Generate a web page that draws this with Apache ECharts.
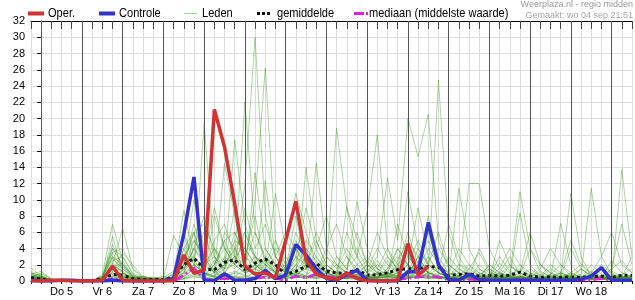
<!DOCTYPE html>
<html><head><meta charset="utf-8">
<script src="https://cdn.jsdelivr.net/npm/echarts@6/dist/echarts.min.js"></script>
<style>html,body{margin:0;padding:0;background:#fff}#c{width:635px;height:300px}</style>
</head><body><div id="c"></div>
<script>
// Time steps: 6-hourly, hours relative to Do 5 00:00 (first step Wo 4 18:00)
const stepStartHour = -6, stepHours = 6, nSteps = 60;
const dayLabels = ['Do 5','Vr 6','Za 7','Zo 8','Ma 9','Di 10','Wo 11','Do 12','Vr 13','Za 14','Zo 15','Ma 16','Di 17','Wo 18'];
const dayStartHours = [0,24,48,72,96,120,144,168,192,216,240,264,288,312,336];

const oper = [0,0,0.1,0.1,0,0,0,0.1,1.8,0.1, 0,0,0,0,0,3.2,0.95,1.3,21.1,16.5, 9.5,1.8,0.85,1.0,0.4,5.0,9.8,2.6,0.85,0.4, 0.2,0.95,0.3,0,0,0,0.1,4.6,0.7,1.8];
const controle = [0.1,0,0,0.1,0.1,0,0,0,0.1,0, 0,0,0,0,0.3,5.8,12.8,0.1,0.05,0.9, 0.1,0.1,0.3,1.3,0.3,0.7,4.5,3.2,1.5,0.3, 0.1,0.8,1.3,0.1,0,0,0,1.15,1.15,7.2, 2.0,0.2,0.1,0.8,0.2,0.1,0.1,0.1,0.1,0.1, 0.1,0.1,0.1,0.1,0.2,0.6,1.65,0.1,0.1,0.1];
const gemiddelde = [0.4,0.25,0.05,0.05,0.05,0.05,0.05,0.3,0.8,0.7, 0.3,0.2,0.2,0.15,0.4,2.0,2.8,1.5,1.4,2.3, 2.6,1.4,2.2,2.7,2.0,0.8,1.2,1.8,2.2,1.2, 1.0,1.0,1.4,0.7,0.8,1.0,1.4,1.5,1.5,1.8, 1.7,0.7,0.8,0.9,0.6,0.7,0.6,0.7,1.1,0.6, 0.45,0.5,0.45,0.5,0.45,0.6,0.6,0.45,0.7,0.7];
const mediaan = [0.2,0.1,0.05,0.05,0.05,0,0,0,0.3,0.1, 0,0,0,0,0,0.7,1.6,0.2,0.1,0.3, 0.2,0.1,0.3,0.5,0.3,0.1,0.6,0.4,0.8,0.6, 0.4,0.6,0.5,0.1,0.1,0.1,0.2,0.3,0.5,0.6, 0.5,0.1,0.1,0.2,0.1,0.1,0.1,0.1,0.3,0.1, 0.1,0.1,0.1,0.1,0.1,0.1,0.3,0.1,0.1,0.1];

const leden = [
[1.6,0.6,0.1,0,0,0,0,0.4,4.5,1.8, 0.3,0.1,0,0.2,0.5,2.5,1.2,19.4,3,1.5, 4,6,2.5,1,0.6,0.3,2,4,1.5,0.6, 0.8,0.3,0.6,0.2,1,2.5,1,0.5,0.3,1, 2,0.5,0.3,0.2,1,0.5,0.3,0.2,0.5,0.3, 0.2,0.1,0.5,1,0.4,0.3,0.2,0.5,0.3,0.2],
[0.8,1.2,0.2,0,0,0,0,0.8,7,2.5, 0.5,0.2,0.1,0,0.3,4,6,2,1,14.5, 8,2,1.5,3,1,0.5,1.2,2,0.8,0.3, 0.5,1.5,3,1,0.4,0.6,2,3.5,1,0.5, 0.3,0.6,1.5,0.8,0.3,0.5,2.2,1,0.4,0.2, 0.3,0.8,0.5,0.2,0.4,1.2,0.6,0.3,0.2,0.4],
[0.5,0.3,0,0,0,0,0,0.2,5.5,1, 0.2,0.4,0.1,0.3,0.8,8.7,3,1.5,4,2, 17.4,7,3,2,5,1,0.8,1.5,3,1, 0.4,0.3,0.8,2,1.5,0.6,0.3,1,2.5,1, 0.5,0.3,0.6,1.5,3.5,1.2,0.5,0.3,0.2,0.5, 0.8,0.4,0.2,0.3,0.6,0.3,0.2,0.1,0.3,0.5],
[0.3,0.5,0.1,0,0,0,0.1,0.6,4,3, 1,0.3,0.2,0.1,1,5.6,2,1,0.5,3, 2,1,13.3,4,2,1,6,3,1,0.5, 0.3,0.5,1,0.4,0.3,1.5,4,2,1,3, 1,0.5,0.3,0.8,0.5,0.3,0.2,0.6,1.5,0.5, 0.3,0.2,0.4,0.8,0.3,0.2,0.4,0.3,0.6,0.3],
[1,0.4,0,0,0,0,0,0.3,3.5,1.5, 0.6,0.3,0.5,0.2,0.3,2,10,4,1.2,0.5, 1,2,1,12.3,3,1,0.5,2,5,2, 1,0.8,0.5,0.2,0.5,1,0.4,0.8,3,5, 2,0.6,0.3,0.5,0.3,0.8,0.4,0.2,0.3,1, 0.5,0.3,0.2,0.6,1.5,0.6,0.3,0.2,0.4,0.6],
[0.2,0.1,0,0,0,0,0,0.1,2,6.5, 1.5,0.3,0.1,0,0.2,1.5,4,2,3,1, 2.5,5,3,1.5,10.8,4,10.8,6,2,1, 0.5,0.3,0.2,0.8,2,1,0.5,0.3,1.2,0.6, 0.3,0.2,0.4,0.3,0.2,0.5,1.5,4,2,0.5, 0.3,0.2,1,0.5,0.3,0.2,0.5,1.2,0.6,0.3],
[0.6,0.2,0,0,0,0,0,0.2,2.5,3, 0.8,0.2,0.3,0.5,0.2,1,3,6,2,5, 6,3,1.5,1,2,1,0.5,14,5,2, 1,3,1.5,0.5,0.3,0.6,1,2,0.6,0.3, 0.5,2,1,0.4,0.3,0.2,0.5,0.3,8.4,2, 0.6,0.3,0.2,0.4,0.3,0.6,0.3,0.2,0.5,0.4],
[0.4,0.7,0.1,0,0,0,0,0.3,3,1, 0.4,0.1,0,0.2,0.4,6,2.5,1,8,4, 3,22,6,2.5,1,0.8,3,1.5,14.5,4, 2,1,0.6,0.3,0.5,1,0.6,0.4,0.8,2, 1,0.5,0.3,0.2,0.6,0.4,0.3,0.8,0.4,0.2, 0.3,0.5,7.1,2,0.6,0.3,0.2,0.3,0.5,0.2],
[0.2,0.3,0,0,0,0,0,0.1,1.5,2, 0.5,0.2,0.1,0.3,5.6,3,1,0.6,2,5, 2,12,30,8,3,1,0.8,0.5,1,2, 18.8,9,5.3,2,1,0.6,0.4,1,2,1, 0.6,0.3,0.2,0.5,0.3,0.6,1,0.5,0.3,0.2, 0.4,0.3,0.2,0.5,0.3,0.2,0.6,0.4,0.3,0.2],
[0.9,0.3,0,0,0,0,0,0.2,2,1.2, 0.3,0.6,0.2,0.1,0.3,1.2,5,3,1,2, 4,2,10,26.2,5,2,1,0.6,0.4,1, 2,1,9.8,4,1.5,0.8,0.5,0.3,0.6,0.4, 0.3,0.6,11.4,4,1.5,0.6,0.3,0.2,0.4,0.3, 0.2,0.4,0.3,0.2,0.5,0.3,0.2,0.4,0.6,0.3],
[0.3,0.5,0.2,0,0,0,0,0.5,1.5,0.8, 0.2,0.1,0,0.1,0.2,2,6,7,4,1, 0.5,1.5,3,2,1,1.5,4,2,0.8,0.5, 0.3,9.1,3,8.5,18,4,1,0.6,0.4,0.8, 1.5,0.6,0.3,0.2,0.5,0.4,0.3,0.6,0.3,0.2, 0.4,0.3,0.6,10.8,3,0.6,0.3,0.2,0.4,0.3],
[0.5,0.2,0,0,0,0,0,0.1,1,0.6, 0.3,0.2,0.4,0.2,0.1,0.8,2,1,0.5,1, 3,1.5,1,2,0.8,0.5,1,3,2,1, 0.6,0.4,0.3,1,3,12.7,5,20,15.3,20.5, 5,1.5,0.6,0.3,0.2,0.4,0.3,0.2,0.5,0.3, 0.2,0.3,0.5,0.3,0.2,0.4,0.3,0.2,0.3,0.5],
[0.1,0.2,0,0,0,0,0,0.2,0.8,0.5, 0.1,0,0.1,0.2,0.3,0.6,1.5,0.8,0.4,0.6, 1,0.8,2,1,0.5,0.3,0.6,0.4,1,2, 1,0.5,0.8,0.4,0.3,0.5,1,0.6,3,1, 24.7,6,2,1,0.5,0.3,0.6,0.4,0.3,0.2, 0.3,0.2,0.4,0.6,0.3,0.2,0.3,0.5,0.3,0.2],
[0.7,0.4,0,0,0,0,0,0.1,0.5,0.3, 0,0.1,0.2,0,0.1,0.4,1,0.5,1,0.4, 0.6,0.4,1,0.5,0.3,1.5,0.6,0.3,0.5,1, 0.5,0.3,1.2,0.6,0.4,0.3,1,2,0.8,0.4, 0.6,0.3,1,12,12,4,1.5,0.6,0.4,0.3, 0.2,0.3,0.5,0.3,0.2,0.6,0.4,0.3,0.2,0.3],
[0.3,0.1,0,0,0,0,0,0,0.4,0.2, 0.1,0,0,0.1,0,0.3,0.8,0.4,0.2,0.5, 0.3,0.6,0.4,1,0.5,0.3,0.8,0.5,0.3,0.6, 0.4,0.6,0.3,0.5,0.8,0.4,0.6,1,4,2, 1,0.5,0.3,0.6,0.4,0.3,1,0.6,11,4, 1,0.6,0.4,0.3,0.5,0.3,0.4,0.6,0.3,0.4],
[0.4,0.2,0,0,0,0,0,0,0.3,0.5, 0.2,0.1,0,0,0.1,0.2,0.5,0.3,0.6,0.3, 0.4,0.3,0.6,0.3,0.4,0.2,0.5,0.3,0.8,0.4, 0.3,0.5,0.2,0.4,0.6,0.3,0.4,0.8,0.5,0.6, 0.4,0.3,0.6,0.4,0.3,0.5,0.3,0.4,0.6,0.3, 0.5,0.3,0.4,0.6,0.8,11.4,3,0.8,0.4,0.3],
[0.2,0.3,0,0,0,0,0,0,0.6,0.4, 0.1,0.2,0,0,0,0.3,0.6,0.4,0.3,0.6, 0.5,0.3,0.4,0.6,0.3,0.5,0.4,0.6,0.3,0.5, 0.4,0.3,0.5,0.3,0.4,0.6,0.3,0.5,0.4,0.3, 0.5,0.3,0.4,0.6,0.3,0.4,0.5,0.3,0.6,0.4, 0.3,0.5,0.4,0.3,0.6,0.4,0.5,0.3,13.7,3],
[1.2,0.5,0.1,0,0,0,0,0.4,2.8,1.5, 0.4,0.2,0.1,0.2,0.6,2,3,1.5,5,7, 3,2,6,3,1.5,2,5,2,1,3, 2,1,0.5,1.5,4,2,1,0.5,2,6, 2,1,0.5,0.3,2,1,0.6,0.3,0.5,1.5, 0.6,2,1,0.4,0.3,0.6,1.5,0.5,0.3,0.8],
[0.5,0.9,0.2,0,0,0,0,0.6,3.5,4, 1.5,0.5,0.3,0.2,0.8,4,2,1,2.5,1.5, 5,4,2,1,3,6,4,1.5,2,0.6, 1,2,4,1.5,0.8,0.4,2.5,5,3,1, 0.8,3,1.5,0.6,0.4,2,1,0.5,0.3,0.6, 2,1,0.5,0.3,1.5,0.6,0.4,2.5,1,0.5],
[0.3,0.2,0,0,0,0,0,0.3,2,1, 0.3,0.1,0.2,0.4,1.2,3,1.5,2,4,2.5, 1.5,3,2,4,2,1,2.5,5,3,1.5, 0.8,0.5,2,3,1.5,4,2,1,0.6,2.5, 4,2,1,0.5,1.5,0.8,0.4,1.8,1,0.5, 0.3,0.8,2,1,0.5,0.3,0.6,1.5,2.5,1],
[0.6,0.3,0,0,0,0,0,0.2,1.8,2.2, 0.6,0.4,0.2,0.1,0.3,1,4,2.5,1,6, 4,1,1.5,2.5,1,0.5,3,2,6,3, 1.5,4,2,1,0.5,1.5,3,2,5,2, 1,0.5,2,1.5,0.6,0.3,0.8,2,1,0.4, 1.2,0.6,0.3,1,2,1,0.5,0.3,0.8,1.5],
[0.4,0.6,0.1,0,0,0,0,0.4,4,2, 0.8,0.3,0.1,0.2,0.4,2.5,6,1,0.6,2, 3,1,2,1.5,4,2,1,1.5,1,0.5, 3,1.5,0.6,0.4,1,3,1.5,6,2,1, 0.6,0.3,0.5,2,1,0.5,3,1.2,0.6,0.3, 0.5,1.5,0.8,0.4,0.3,0.5,0.3,0.8,0.4,0.6],
[0.2,0.4,0,0,0,0,0,0.1,1.2,3.5, 2,0.5,0.3,0.6,0.2,1.5,2.5,0.8,2,4, 2,6,3,1,0.6,0.8,1.5,4,2.5,1, 0.6,0.4,1.5,2.5,1,0.6,0.3,3,1.5,4, 2,1,0.6,0.3,0.8,1.5,0.6,0.3,2,1, 0.4,0.3,1,0.6,0.3,2,0.8,0.4,0.3,0.6],
[0.8,0.3,0,0,0,0,0,0.2,2.2,1, 0.3,0.6,0.3,0.1,0.2,3,5,3,9,4, 2,9,4,7,3,1.5,8,2,1,4, 7,3,1,2,6,3,1.5,11,4,2, 6,2,1,0.5,4,1.5,0.8,0.4,1,6, 2,1,0.5,4,1.5,0.6,2,1,0.5,3],
[0.1,0.2,0,0,0,0,0,0.3,1.5,0.6, 0.2,0.1,0,0.1,0.5,2,7,3,1,2, 9,4,2,1,1.5,3,1.2,0.6,4,8, 3,1.5,6,2,1,0.5,7,3,1.5,8, 3,1,4,2,0.6,0.3,5,2,0.8,0.4, 1.5,4,2,0.6,0.3,1,3,6,2,1],
[0.5,1,0.3,0,0,0,0,0.5,3,2, 0.5,0.2,0.1,0,0.3,1.5,4,8,3,1.5, 6,3,8,2,1,5,3,9,4,1.5, 1,6,3,1,2.5,1,4,2,9,3, 1,7,3,1,0.5,2,1,3,0.8,4, 2,0.6,1,5,2,0.8,0.4,1.5,7,2],
[0.3,0.1,0,0,0,0,0,0.1,1,0.4, 0.1,0,0,0,0.1,0.5,1.5,0.6,1.5,0.8, 1.2,0.6,1,0.8,0.4,0.6,2,1,0.5,0.3, 0.6,0.3,0.8,0.5,0.3,1,0.6,0.4,1.5,0.8, 0.5,0.3,0.6,0.4,0.3,0.6,0.4,0.3,0.5,0.3, 0.4,0.3,0.2,0.5,0.3,0.4,0.2,0.3,0.4,0.3],
[1,0.6,0,0,0,0,0,0.2,1.2,0.8, 0.2,0.3,0.1,0,0.2,1,2,1,0.6,1.5, 2,1,1.5,0.6,0.8,0.4,1,0.6,2,0.8, 0.4,1,0.6,0.3,0.5,0.8,1.2,0.6,0.4,1, 0.6,0.4,0.3,0.5,0.8,0.4,0.3,0.6,0.4,0.3, 0.3,0.5,0.4,0.3,0.2,0.5,0.3,0.4,0.3,0.2]
];

const hours = [];
for (let i = 0; i < nSteps; i++) hours.push(stepStartHour + stepHours * i);
const pairs = arr => arr.map((v, i) => [hours[i], v]);

const chart = echarts.init(document.getElementById('c'), null, {renderer: 'canvas'});
const FONT = 'Liberation Sans, Arial, sans-serif';

const series = [];
series.push({
  type: 'line', data: [], silent: true, z: 1,
  markLine: {silent: true, symbol: ['none','none'], label: {show: false}, animation: false,
    lineStyle: {color: '#555', width: 1, type: 'solid'},
    data: dayStartHours.map(h => ({xAxis: h}))}
});
leden.forEach(m => series.push({
  type: 'line', data: pairs(m), symbol: 'none', silent: true, z: 2,
  lineStyle: {color: 'rgba(55,150,25,0.4)', width: 1}
}));
series.push({type: 'line', data: pairs(mediaan), symbol: 'none', z: 3,
  lineStyle: {color: '#e020e0', width: 2.5, type: [10,3,2,3]}});
series.push({type: 'line', data: pairs(gemiddelde), symbol: 'none', z: 4,
  lineStyle: {color: '#111', width: 3, type: [3,3], cap: 'butt'}});
series.push({type: 'line', data: pairs(controle), symbol: 'none', z: 5,
  lineStyle: {color: '#3333cc', width: 3.5}});
series.push({type: 'line', data: pairs(oper), symbol: 'none', z: 6,
  lineStyle: {color: '#d03333', width: 3.5}});

const legendItems = [
  {x1: 28, x2: 44, color: '#d03333', w: 4, dash: null, tx: 48, text: 'Oper.'},
  {x1: 99, x2: 115, color: '#3333cc', w: 4, dash: null, tx: 119, text: 'Controle'},
  {x1: 184, x2: 197, color: '#a8d49c', w: 1.2, dash: null, tx: 202, text: 'Leden'},
  {x1: 257, x2: 272, color: '#111', w: 3, dash: [3,2], tx: 277, text: 'gemiddelde'},
  {x1: 354, x2: 368, color: '#e020e0', w: 3, dash: [10,2,2,2], tx: 369, text: 'mediaan (middelste waarde)'}
];
const graphic = [];
legendItems.forEach(it => {
  graphic.push({type: 'line', shape: {x1: it.x1, y1: 13.5, x2: it.x2, y2: 13.5},
    style: {stroke: it.color, lineWidth: it.w, lineDash: it.dash}, silent: true});
  graphic.push({type: 'text', x: it.tx, y: 13.5, scaleX: 0.85,
    style: {text: it.text, fill: '#000', font: '13px ' + FONT, textVerticalAlign: 'middle'}});
});
graphic.push({type: 'text', right: 2, top: 0,
  style: {text: 'Weerplaza.nl - regio midden', fill: '#999', font: '9px ' + FONT, textAlign: 'right'}});
graphic.push({type: 'text', right: 2, top: 11,
  style: {text: 'Gemaakt: wo 04 sep 21:51', fill: '#a8a8a8', font: '9px ' + FONT, textAlign: 'right'}});

chart.setOption({
  animation: false,
  backgroundColor: '#fff',
  grid: {left: 31, right: 0, top: 21, height: 260, containLabel: false},
  xAxis: [{
    type: 'value', min: stepStartHour, max: hours[hours.length - 1], interval: stepHours,
    axisLine: {show: true, onZero: false, lineStyle: {color: '#000', width: 1}},
    axisTick: {show: true, inside: false, length: 3, lineStyle: {color: '#000'}},
    axisLabel: {show: true, margin: 5, color: '#000', fontSize: 11, fontFamily: FONT,
      showMinLabel: true, showMaxLabel: true,
      formatter: v => {
        const k = (v - 12) / 24;
        return (Number.isInteger(k) && k >= 0 && k < dayLabels.length) ? dayLabels[k] : '';
      }},
    splitLine: {show: true, lineStyle: {color: '#dcdcdc', width: 1}}
  }, {
    type: 'value', position: 'top', min: stepStartHour, max: hours[hours.length - 1], interval: stepHours,
    axisLine: {show: true, onZero: false, lineStyle: {color: '#000', width: 1}},
    axisTick: {show: true, inside: true, length: 8, lineStyle: {color: '#444'}},
    axisLabel: {show: false}, splitLine: {show: false}
  }],
  yAxis: {
    type: 'value', min: 0, max: 32, interval: 2,
    axisLine: {show: true, lineStyle: {color: '#000', width: 1}},
    axisTick: {show: true, inside: false, length: 4, lineStyle: {color: '#000'}},
    axisLabel: {margin: 6, color: '#000', fontSize: 11, fontFamily: FONT},
    splitLine: {show: true, lineStyle: {color: '#dcdcdc', width: 1}}
  },
  graphic: graphic,
  series: series
});
</script></body></html>
